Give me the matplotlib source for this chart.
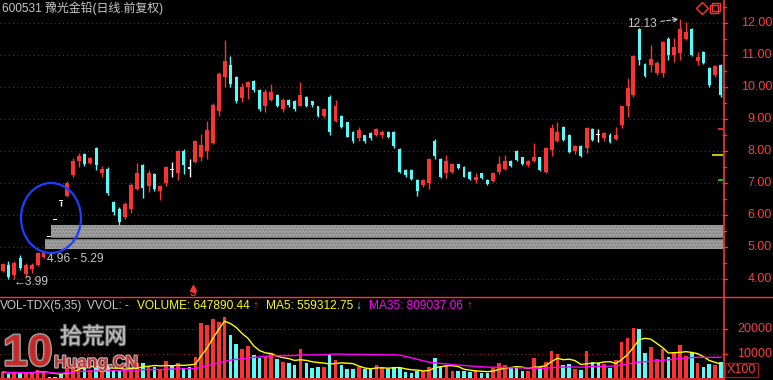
import matplotlib
matplotlib.use("Agg")
import matplotlib.pyplot as plt
import matplotlib.patheffects as pe
import numpy as np
import pandas as pd
from matplotlib.patches import Ellipse, Rectangle
from matplotlib.lines import Line2D
from matplotlib.transforms import blended_transform_factory

# 日线数据（前复权）
opens = [4.25, 4.45, 4.12, 4.65, 4.15, 4.30, 4.45, 4.70, 5.31, 5.84,
         6.43, 6.60, 7.25, 7.70, 7.90, 7.63, 8.10, 7.30, 7.45, 6.42,
         6.20, 5.95, 6.20, 6.80, 7.55, 6.90, 7.28, 6.75, 7.00, 7.40,
         7.30, 8.00, 7.45, 7.65, 7.80, 8.00, 8.25, 9.25, 10.30, 10.70,
         10.30, 9.65, 10.00, 10.20, 9.90, 9.40, 9.60, 9.75, 9.30, 9.60,
         9.55, 9.42, 9.70, 9.55, 9.40, 9.10, 9.70, 8.95, 9.10, 8.90,
         8.60, 8.40, 8.50, 8.55, 8.50, 8.50, 8.60, 8.60, 8.05, 7.40,
         7.40, 7.10, 6.95, 7.00, 8.30, 7.75, 7.30, 7.35, 7.58, 7.50,
         7.35, 7.10, 7.30, 7.10, 7.05, 7.35, 7.45, 7.70, 8.00, 7.80,
         7.55, 7.70, 7.80, 7.35, 8.03, 8.30, 8.75, 8.50, 8.00, 8.15,
         8.10, 8.70, 8.50, 8.40, 8.50, 8.37, 8.80, 9.40, 9.75, 11.80,
         10.72, 10.70, 10.45, 10.45, 11.50, 11.00, 11.06, 11.50, 11.80, 10.80,
         11.10, 10.60, 10.38, 10.70]
highs = [4.50, 4.55, 4.55, 4.75, 4.50, 4.50, 4.84, 4.85, 5.31, 5.84,
         6.44, 7.06, 7.78, 7.94, 7.94, 7.80, 8.13, 7.53, 7.50, 6.44,
         6.25, 6.41, 7.00, 7.63, 7.59, 7.41, 7.31, 6.94, 7.53, 7.66,
         8.03, 8.06, 7.75, 8.34, 8.53, 8.94, 9.50, 10.47, 11.47, 10.97,
         10.34, 10.13, 10.19, 10.22, 9.94, 9.94, 10.09, 9.78, 9.66, 9.63,
         9.59, 10.16, 9.72, 9.56, 9.41, 9.34, 9.75, 9.59, 9.13, 8.91,
         8.63, 8.75, 8.50, 8.59, 8.72, 8.66, 8.63, 8.63, 8.09, 7.44,
         7.44, 7.13, 7.13, 7.78, 8.38, 7.78, 7.88, 7.63, 7.59, 7.53,
         7.38, 7.31, 7.31, 7.13, 7.34, 7.84, 7.88, 7.72, 8.03, 7.81,
         7.72, 8.25, 7.81, 8.13, 8.84, 8.91, 8.78, 8.53, 8.19, 8.19,
         8.75, 8.72, 8.69, 8.59, 8.56, 8.75, 9.41, 10.28, 11.00, 11.84,
         10.75, 11.31, 10.81, 11.44, 11.56, 11.53, 12.13, 12.03, 11.84, 11.09,
         11.13, 10.63, 10.69, 10.72]
lows = [4.22, 4.00, 3.99, 4.28, 4.06, 4.20, 4.41, 4.66, 5.31, 5.84,
        6.28, 6.56, 7.19, 7.50, 7.53, 7.60, 7.41, 7.19, 6.63, 6.00,
        5.69, 5.88, 6.06, 6.78, 6.53, 6.72, 6.75, 6.47, 6.91, 7.19,
        7.09, 7.28, 7.19, 7.63, 7.69, 7.75, 8.22, 9.10, 10.00, 10.00,
        9.50, 9.53, 9.63, 9.84, 9.25, 9.22, 9.56, 9.38, 9.22, 9.38,
        9.25, 9.41, 9.38, 9.38, 9.06, 9.03, 8.50, 8.91, 8.72, 8.44,
        8.25, 8.31, 8.25, 8.34, 8.47, 8.41, 8.41, 8.09, 7.31, 7.19,
        7.09, 6.59, 6.88, 6.81, 7.75, 7.16, 7.16, 7.31, 7.44, 7.19,
        7.09, 7.00, 7.13, 6.94, 7.03, 7.28, 7.41, 7.50, 7.69, 7.56,
        7.50, 7.66, 7.38, 7.31, 7.84, 8.28, 8.31, 7.94, 7.91, 7.81,
        7.94, 8.31, 8.28, 8.31, 8.25, 8.34, 8.72, 9.06, 9.69, 10.69,
        10.31, 10.47, 10.38, 10.31, 10.84, 10.78, 10.84, 11.47, 10.97, 10.69,
        10.72, 10.00, 10.31, 9.69]
closes = [4.48, 4.05, 4.50, 4.35, 4.45, 4.45, 4.82, 4.83, 5.31, 5.84,
          6.43, 7.00, 7.70, 7.85, 7.60, 7.78, 7.55, 7.45, 6.68, 6.08,
          5.78, 6.35, 6.95, 7.30, 6.85, 7.30, 6.80, 6.90, 7.50, 7.40,
          8.00, 7.55, 7.45, 8.30, 8.20, 8.65, 9.45, 10.40, 10.80, 10.10,
          9.55, 10.00, 10.15, 9.90, 9.30, 9.85, 9.85, 9.40, 9.60, 9.45,
          9.30, 9.75, 9.40, 9.45, 9.10, 9.30, 8.60, 9.40, 8.75, 8.45,
          8.30, 8.65, 8.30, 8.40, 8.68, 8.60, 8.45, 8.15, 7.35, 7.25,
          7.12, 6.75, 7.10, 7.75, 7.85, 7.20, 7.70, 7.60, 7.47, 7.20,
          7.12, 7.20, 7.15, 6.97, 7.32, 7.60, 7.70, 7.52, 7.72, 7.60,
          7.68, 7.82, 7.40, 8.10, 8.72, 8.60, 8.35, 7.97, 8.15, 7.85,
          8.72, 8.35, 8.50, 8.55, 8.28, 8.50, 9.40, 9.97, 10.97, 10.85,
          10.35, 10.88, 10.75, 11.40, 11.00, 11.25, 11.81, 11.72, 11.00, 10.95,
          10.75, 10.05, 10.65, 9.75]
# 成交量（X100股）
volumes = [2600, 1700, 2600, 1900, 2500, 2000, 3500, 3000, 300, 500,
           1500, 4200, 5500, 6000, 4500, 3500, 5000, 3000, 5500, 3500,
           3200, 3000, 4500, 6050, 6300, 4400, 4600, 3600, 7000, 5400,
           6050, 4000, 4600, 8500, 22500, 21800, 24100, 23100, 25200, 17700,
           13800, 11800, 13200, 9500, 8100, 9100, 10400, 7700, 6700, 6050,
           5400, 11800, 6300, 4000, 4400, 4400, 9700, 7400, 5400, 3600,
           3600, 4600, 3600, 3600, 5400, 4000, 3600, 4700, 4000, 2600,
           2200, 3000, 2900, 4700, 8400, 4400, 4900, 3000, 3000, 2900,
           2600, 3300, 2200, 2200, 4000, 6100, 5400, 4000, 4000, 3000,
           3000, 8400, 4700, 6500, 11200, 9900, 5400, 5800, 3600, 3300,
           11200, 6700, 6100, 5700, 4000, 7400, 14700, 16300, 20400, 20000,
           10200, 12900, 7700, 11800, 8800, 10800, 13600, 9200, 10200, 6300,
           4600, 5800, 5400, 6480]

price_ticks = [4, 5, 6, 7, 8, 9, 10, 11, 12]
vol_ticks = [10000, 20000]
# 缺口区域
gap_start = [7, 8]
gap_low = [4.95, 5.29]
gap_high = [5.29, 5.69]
# 右侧成本标记
mark_price = [8.69, 7.875, 7.08]
mark_color = ['#ff3232', '#e8e800', '#20e020']
mark_len = [0.9, 1.9, 0.9]

RED = '#ff3232'
CYAN = '#54fcfc'
GRID = '#a01818'
TXT = '#c8c8c8'
NUM_FONT = ['Liberation Sans', 'DejaVu Sans']
CJK_FONT = ['Liberation Sans', 'Noto Sans CJK SC', 'DejaVu Sans']

W, H = 773, 380


def fx(px):
    return px / W


def fy(py):
    return 1 - py / H


n = len(closes)
x = np.arange(n)
o = np.array(opens)
c = np.array(closes)
colors = [RED if cc > oo else (CYAN if cc < oo else 'white') for oo, cc in zip(o, c)]
vcolors = [RED if cc > oo else CYAN for oo, cc in zip(o, c)]

fig = plt.figure(figsize=(W / 100, H / 100), dpi=100, facecolor='black')
ax = fig.add_axes([0, fy(297), fx(723), 297 / H])
axv = fig.add_axes([0, fy(379), fx(723), (379 - 297) / H])

for a in (ax, axv):
    a.set_facecolor('black')
    for s in a.spines.values():
        s.set_visible(False)
    a.set_xticks([])
    a.set_yticks([])
    a.set_xlim(-0.45, n - 1 + 0.35)

# ---- K线 ----
ax.set_ylim(3.4375, 12.72)
for p in price_ticks:
    ax.axhline(p, color=GRID, lw=0.75, ls=(0, (1, 3)), zorder=0)

ax.vlines(x, lows, highs, colors=colors, lw=1, zorder=3)
body_w = [0.5 if col == CYAN else 0.68 for col in colors]
body_h = np.maximum(np.abs(c - o), 0.035)
body_b = np.minimum(o, c)
ax.bar(x, body_h, width=body_w, bottom=body_b, color=colors, lw=0, zorder=4)

# 缺口
for s, lo, hi in zip(gap_start, gap_low, gap_high):
    ax.add_patch(Rectangle((s + 0.2, lo), n - s, hi - lo, facecolor='#a0a0a0',
                           edgecolor='#808080', hatch='.....', lw=0, zorder=5))
ax.axhline(gap_high[0], xmin=0.06, color='black', lw=1, zorder=6)

# 右侧标记
for p, col, ln in zip(mark_price, mark_color, mark_len):
    ax.hlines(p, n - 1 + 0.35 - ln, n - 1 + 0.35, colors=col, lw=1.2, zorder=6)

ax.annotate('12.13', xy=(116, 12.13), xytext=(106.9, 11.97), color=TXT,
            fontsize=8.6, family=NUM_FONT, va='center', ha='left',
            arrowprops=dict(arrowstyle='->', color=TXT, lw=0.8, ls='--',
                            shrinkA=1, shrinkB=1))
ax.text(1.8, 3.91, '\u21903.99', color=TXT, fontsize=8.6, family=NUM_FONT,
        va='center', ha='left')
ax.text(7.6, 4.625, '4.96 - 5.29', color=TXT, fontsize=8.6, family=NUM_FONT,
        va='center', ha='left', zorder=7)
ax.plot([32.6], [3.73], marker='^', color=RED, ms=4, zorder=7, clip_on=False)

# 右侧价格刻度
tr = blended_transform_factory(fig.transFigure, ax.transData)
for p in price_ticks:
    ax.text(fx(772), p, f'{p:.2f}', transform=tr, ha='right', va='center',
            color='#ff3c3c', fontsize=9, family=NUM_FONT, clip_on=False)
    ax.plot([fx(723), fx(727)], [p, p], transform=tr, color=RED, lw=1, clip_on=False)
    ax.plot([fx(723), fx(726)], [p + 0.5, p + 0.5], transform=tr, color=RED, lw=1,
            clip_on=False)

# 圈
fig.add_artist(Ellipse((fx(51), fy(218)), fx(60), 70 / H, transform=fig.transFigure,
                       fill=False, edgecolor='#1a40ff', lw=1.6, zorder=10))

# ---- 成交量 ----
axv.set_ylim(-369, 33250)
for v in vol_ticks:
    axv.axhline(v, color=GRID, lw=0.75, ls=(0, (1, 3)), zorder=0)
axv.bar(x, volumes, width=0.62, color=vcolors, lw=0, zorder=2)
vs = pd.Series(volumes, dtype=float)
axv.plot(x, vs.rolling(5, min_periods=1).mean(), color='#ffff00', lw=1, zorder=3)
axv.plot(x, vs.rolling(35, min_periods=1).mean(), color='#ff00ff', lw=1, zorder=3)

trv = blended_transform_factory(fig.transFigure, axv.transData)
for v in vol_ticks:
    axv.text(fx(772), v, f'{v}', transform=trv, ha='right', va='center',
             color='#ff3c3c', fontsize=9, family=NUM_FONT, clip_on=False)
    axv.plot([fx(723), fx(727)], [v, v], transform=trv, color=RED, lw=1, clip_on=False)

fig.add_artist(Rectangle((fx(725), fy(377)), fx(33), 14 / H, transform=fig.transFigure,
                         fill=False, edgecolor='#a01818', lw=1))
fig.text(fx(741.5), fy(370), 'X100', color='#ff3c3c', fontsize=9, family=NUM_FONT,
         ha='center', va='center')

# 框线
fig.add_artist(Line2D([fx(723.5), fx(723.5)], [0, 1], transform=fig.transFigure,
                      color=RED, lw=1.2))
fig.add_artist(Line2D([0, 1], [fy(297), fy(297)], transform=fig.transFigure,
                      color=RED, lw=1))
fig.add_artist(Line2D([0, fx(723)], [fy(379), fy(379)], transform=fig.transFigure,
                      color=RED, lw=1.2))
fig.text(fx(193), fy(293.5), 'S', color=RED, fontsize=7, fontweight='bold',
         family=NUM_FONT, ha='center', va='center')

# 标题和图例
fig.text(fx(2), fy(8), '600531 豫光金铅(日线.前复权)', color=TXT, fontsize=8.6,
         family=CJK_FONT, ha='left', va='center')
legend = [
    (0, 'VOL-TDX(5,35)', TXT),
    (87, 'VVOL: -', TXT),
    (137, 'VOLUME: 647890.44', '#ffff00'),
    (252, '\u2191', RED),
    (266, 'MA5: 559312.75', '#ffff00'),
    (355, '\u2193', CYAN),
    (369, 'MA35: 809037.06', '#ff00ff'),
    (466, '\u2191', RED),
]
for px, s, col in legend:
    fig.text(fx(px), fy(306), s, color=col, fontsize=8.6, family=NUM_FONT,
             ha='left', va='center')

# 水印
fig.text(fx(3), fy(354), '10', color='#c82828', fontsize=32, fontweight='bold',
         family=NUM_FONT, ha='left', va='center', alpha=0.9,
         path_effects=[pe.withStroke(linewidth=2, foreground='#b0b0b0')])
fig.text(fx(60), fy(337), '拾荒网', color='#c8c8c8', fontsize=16,
         family=['Noto Sans CJK SC'], ha='left', va='center', alpha=0.9,
         path_effects=[pe.withStroke(linewidth=1.5, foreground='#707070')])
fig.text(fx(54), fy(363), 'Huang.CN', color='#c02828', fontsize=12.5, fontweight='bold',
         family=NUM_FONT, ha='left', va='center', alpha=0.9,
         path_effects=[pe.withStroke(linewidth=1.5, foreground='#d0d0d0')])

# 右上角图标
fig.add_artist(Line2D([fx(702)], [fy(8)], marker='D', ms=6, mfc='none', mec=RED,
                      transform=fig.transFigure))
fig.add_artist(Line2D([fx(714)], [fy(9)], marker='s', ms=6, mfc='none', mec=RED,
                      transform=fig.transFigure))
fig.add_artist(Line2D([fx(716)], [fy(7)], marker='s', ms=6, mfc='none', mec=RED,
                      transform=fig.transFigure))

fig.savefig('out.png', dpi=100, facecolor='black')
